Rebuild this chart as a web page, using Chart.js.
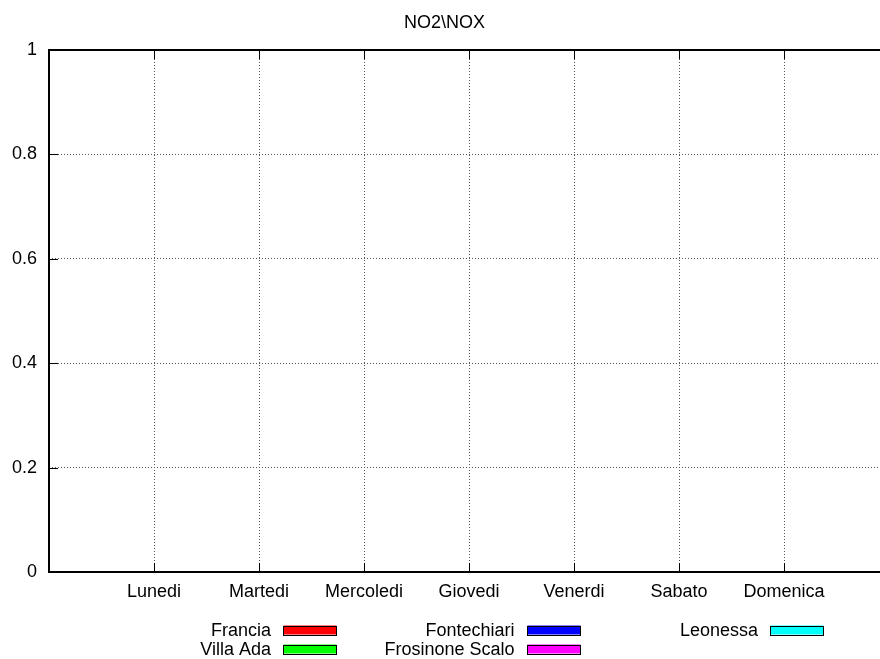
<!DOCTYPE html>
<html>
<head>
<meta charset="utf-8">
<title>NO2\NOX</title>
<script src="https://cdn.jsdelivr.net/npm/chart.js@4"></script>
<style>
  html, body { margin: 0; padding: 0; background: #fff; overflow: hidden; }
  #wrap { width: 900px; height: 659px; }
</style>
</head>
<body>
<div id="wrap"><canvas id="myChart" width="900" height="659"></canvas></div>
<script>
// ── Data ─────────────────────────────────────
const days = ['Lunedi', 'Martedi', 'Mercoledi', 'Giovedi', 'Venerdi', 'Sabato', 'Domenica'];
const stations = ['Francia', 'Villa Ada', 'Fontechiari', 'Frosinone Scalo', 'Leonessa'];
const stationColors = ['#ff0000', '#00ff00', '#0000ff', '#ff00ff', '#00ffff'];

// no values drawn in the picture for any day
const francia        = [null, null, null, null, null, null, null];
const villaAda       = [null, null, null, null, null, null, null];
const fontechiari    = [null, null, null, null, null, null, null];
const frosinoneScalo = [null, null, null, null, null, null, null];
const leonessa       = [null, null, null, null, null, null, null];
const seriesValues = [francia, villaAda, fontechiari, frosinoneScalo, leonessa];

const yTicks = [0, 0.2, 0.4, 0.6, 0.8, 1];

const FONT = { family: '"Liberation Sans", Arial, sans-serif', size: 18 };

// ── gnuplot-like frame with inward ticks ─────
const framePlugin = {
  id: 'frame',
  afterDraw(chart) {
    const { ctx, chartArea: a, scales: { x, y } } = chart;
    ctx.save();
    ctx.strokeStyle = '#000';
    ctx.lineWidth = 1;
    ctx.setLineDash([]);
    const line = (x1, y1, x2, y2) => {
      ctx.beginPath(); ctx.moveTo(x1, y1); ctx.lineTo(x2, y2); ctx.stroke();
    };
    y.ticks.forEach(t => {
      const py = Math.round(y.getPixelForValue(t.value)) + 0.5;
      line(a.left, py, a.left + 9, py);
      line(a.right - 9, py, a.right, py);
    });
    x.ticks.forEach(t => {
      if (t.value < 1 || t.value > days.length) return;
      const px = Math.round(x.getPixelForValue(t.value)) + 0.5;
      line(px, a.bottom, px, a.bottom - 9);
      line(px, a.top, px, a.top + 9);
    });
    ctx.lineWidth = 2;
    ctx.strokeRect(Math.round(a.left), Math.round(a.top), Math.round(a.right - a.left), Math.round(a.bottom - a.top));
    ctx.restore();
  }
};

// ── key below the plot, filled column by column ──
const keyPlugin = {
  id: 'key',
  afterDraw(chart) {
    const { ctx } = chart;
    ctx.save();
    ctx.font = `${FONT.size}px ${FONT.family}`;
    ctx.textAlign = 'right';
    ctx.textBaseline = 'middle';
    chart.data.datasets.forEach((ds, i) => {
      const col = Math.floor(i / 2), row = i % 2;
      const textRight = 271 + col * 243.5;
      const cy = 630 + row * 19;
      ctx.fillStyle = '#000';
      ctx.fillText(ds.label, textRight, cy + 1);
      const bx = Math.round(textRight + 12) + 0.5;
      ctx.fillStyle = ds.backgroundColor;
      ctx.fillRect(bx, cy - 4.5, 53, 9);
      ctx.strokeStyle = '#000';
      ctx.lineWidth = 1;
      ctx.strokeRect(bx, Math.round(cy - 4.5) + 0.5, 53, 9);
    });
    ctx.restore();
  }
};

const datasets = stations.map((name, i) => ({
  label: name,
  data: days.map((d, k) => ({ x: k + 1, y: seriesValues[i][k] })),
  backgroundColor: stationColors[i],
  borderColor: '#000',
  borderWidth: 1
}));

new Chart(document.getElementById('myChart').getContext('2d'), {
  type: 'bar',
  data: { datasets },
  options: {
    responsive: false,
    animation: false,
    layout: { padding: { left: 0, right: 11, top: 0, bottom: 0 } },
    plugins: {
      legend: { display: false },
      tooltip: { enabled: false },
      title: {
        display: true,
        text: 'NO2\\NOX',
        color: '#000',
        font: { ...FONT, weight: 'normal' },
        padding: { top: 12.5, bottom: 15.9 }
      }
    },
    scales: {
      x: {
        type: 'linear',
        offset: false,
        min: 0,
        max: days.length + 1,
        afterFit: s => { s.height = 87; },
        afterBuildTicks: s => { s.ticks = [0, 1, 2, 3, 4, 5, 6, 7, 8].map(v => ({ value: v })); },
        ticks: {
          color: '#000',
          font: FONT,
          padding: 9,
          maxRotation: 0,
          autoSkip: false,
          callback: v => days[v - 1] || ''
        },
        grid: {
          offset: false,
          drawTicks: false,
          color: c => (c.tick && c.tick.value >= 1 && c.tick.value <= days.length) ? '#555' : 'rgba(0,0,0,0)'
        },
        border: { display: false, dash: [1, 2] }
      },
      y: {
        min: 0,
        max: 1,
        afterFit: s => { s.width = 49; },
        afterBuildTicks: s => { s.ticks = yTicks.map(v => ({ value: v })); },
        ticks: {
          color: '#000',
          font: FONT,
          padding: 12,
          callback: v => String(+v.toFixed(1))
        },
        grid: {
          drawTicks: false,
          color: c => (c.tick && c.tick.value > 0 && c.tick.value < 1) ? '#555' : 'rgba(0,0,0,0)'
        },
        border: { display: false, dash: [1, 2] }
      }
    }
  },
  plugins: [framePlugin, keyPlugin]
});
</script>
</body>
</html>
